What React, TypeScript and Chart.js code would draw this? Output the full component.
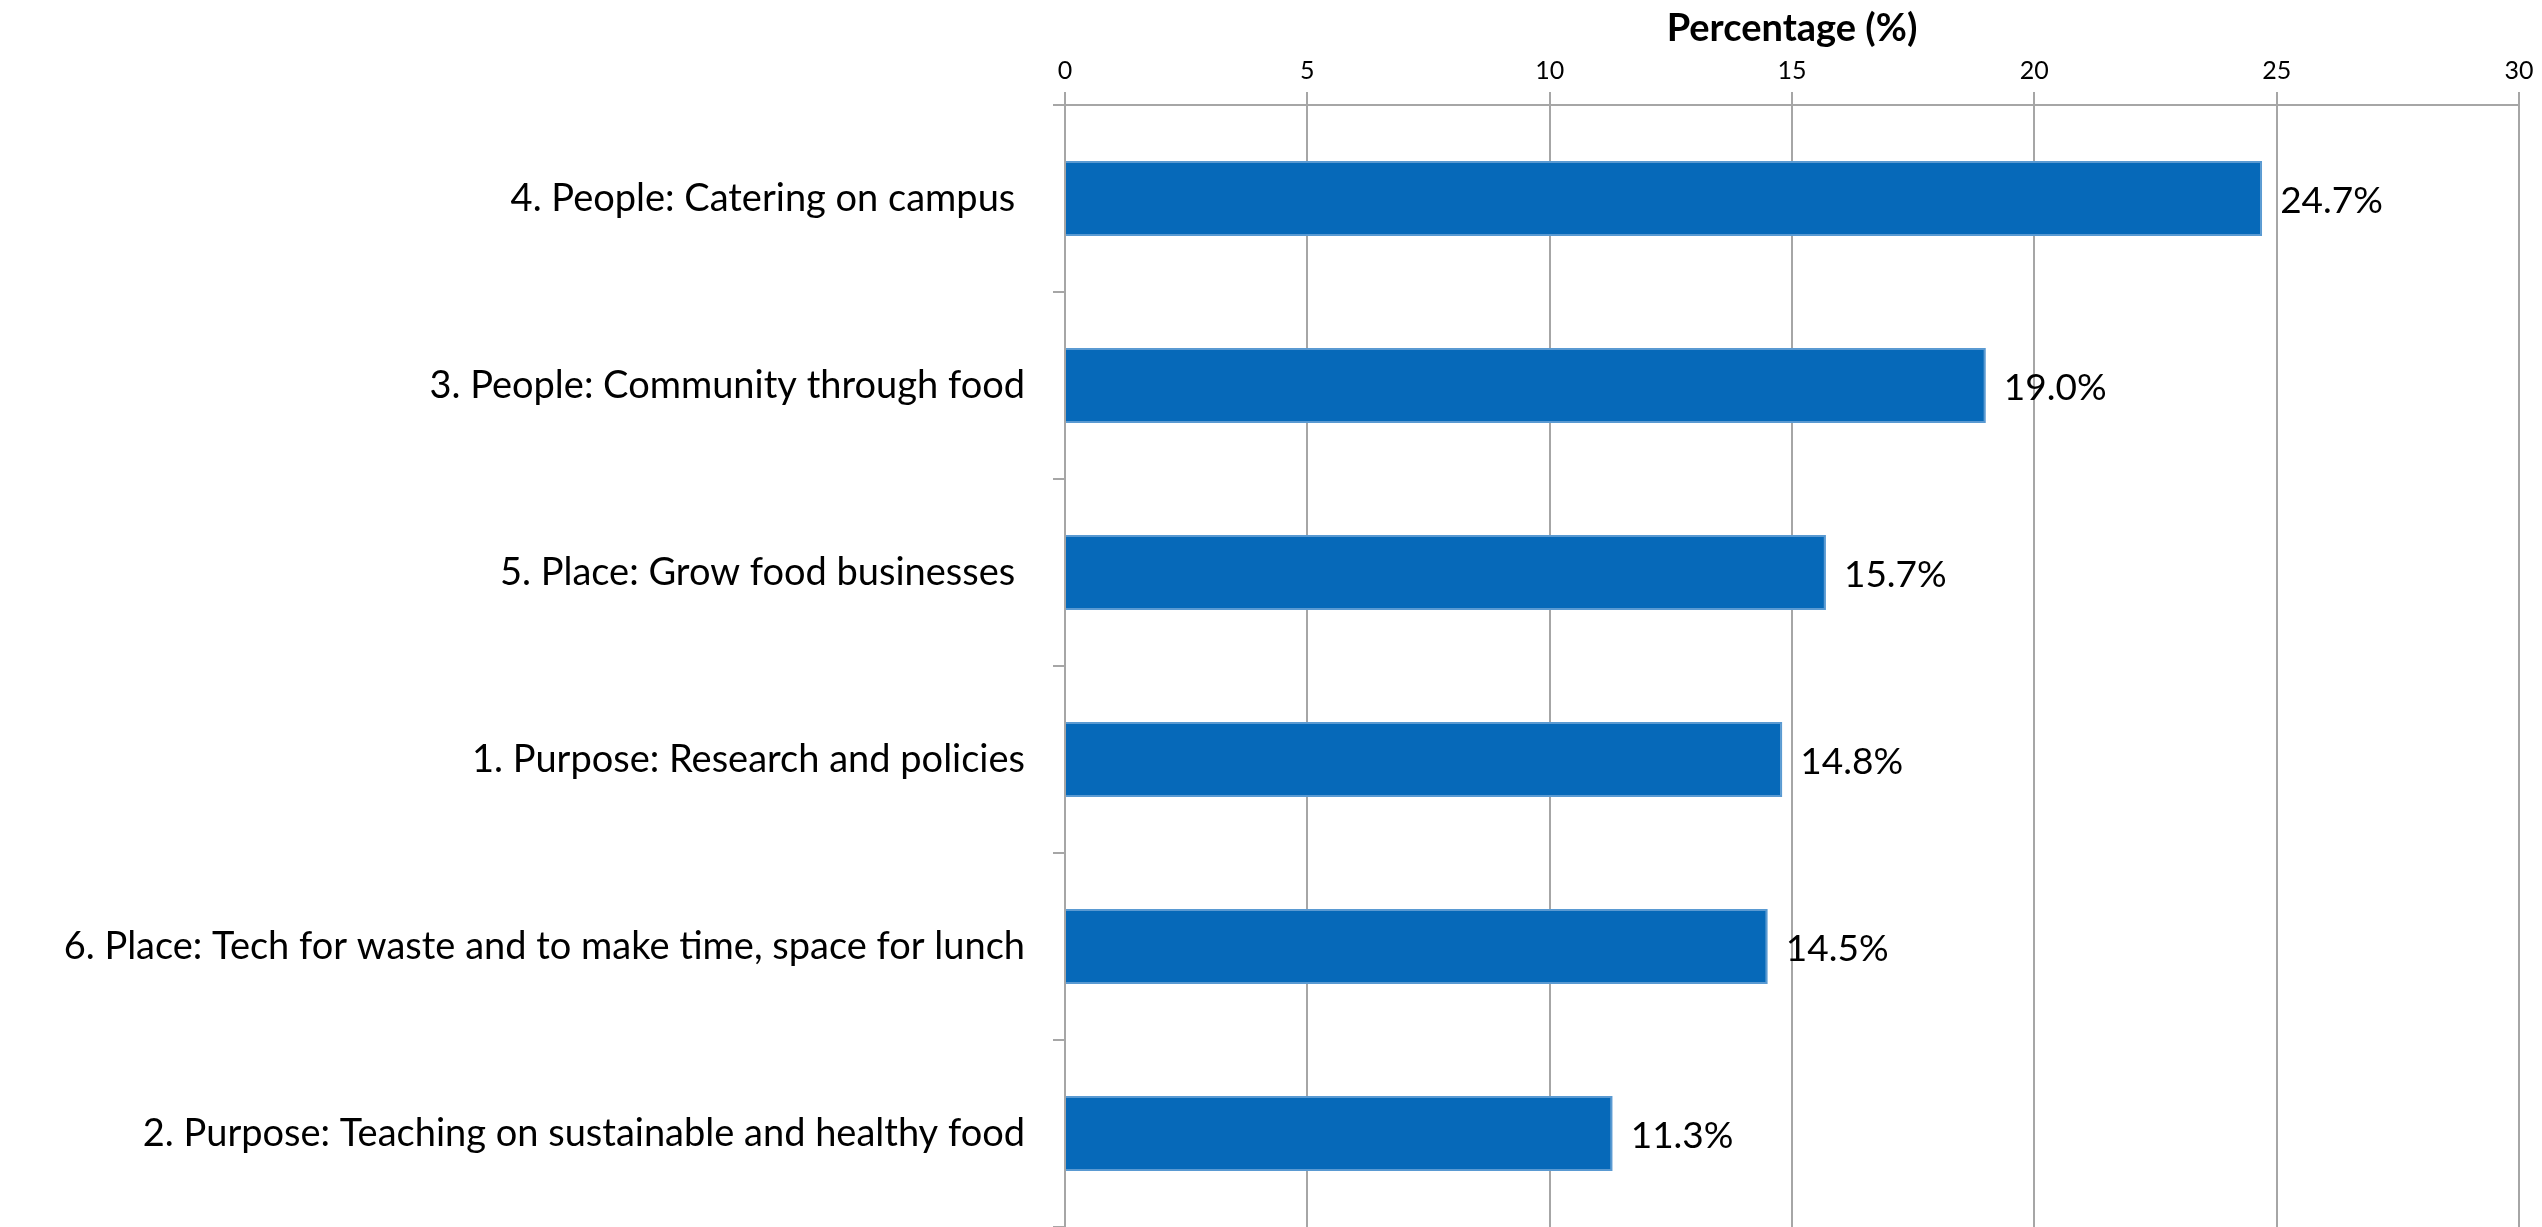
import React, { useEffect, useRef } from "react";
import { Chart, registerables } from "chart.js";

Chart.register(...registerables);

const categories = [
  "4. People: Catering on campus ",
  "3. People: Community through food",
  "5. Place: Grow food businesses ",
  "1. Purpose: Research and policies",
  "6. Place: Tech for waste and to make time, space for lunch",
  "2. Purpose: Teaching on sustainable and healthy food",
];
const percentages = [24.7, 19.0, 15.7, 14.8, 14.5, 11.3];
const valueLabels = ["24.7%", "19.0%", "15.7%", "14.8%", "14.5%", "11.3%"];
const axisMin = 0;
const axisMax = 30;
const axisStep = 5;
const axisTitle = "Percentage (%)";

const FONT = "Lato, 'Liberation Sans', sans-serif";
const GRID = "#A6A6A6";

const valueLabelPlugin = {
  id: "valueLabels",
  afterDatasetsDraw(chart: any) {
    const ctx = chart.ctx;
    const meta = chart.getDatasetMeta(0);
    ctx.save();
    ctx.font = `37px ${FONT}`;
    ctx.fillStyle = "#000";
    ctx.textAlign = "left";
    ctx.textBaseline = "middle";
    meta.data.forEach((bar: any, i: number) => {
      ctx.fillText(valueLabels[i], bar.x + 18, bar.y + 3);
    });
    ctx.restore();
  },
};

export default function App() {
  const ref = useRef<HTMLCanvasElement | null>(null);
  useEffect(() => {
    if (!ref.current) return;
    const chart = new Chart(ref.current, {
      type: "bar",
      data: {
        labels: categories,
        datasets: [
          {
            data: percentages,
            backgroundColor: "#0669B9",
            borderColor: "#5A9AD2",
            borderWidth: 2,
            barPercentage: 0.4,
            categoryPercentage: 1,
          },
        ],
      },
      plugins: [valueLabelPlugin],
      options: {
        indexAxis: "y",
        animation: false,
        responsive: true,
        maintainAspectRatio: false,
        layout: { padding: { left: 0, right: 23, top: 0, bottom: 0 } },
        plugins: { legend: { display: false }, tooltip: { enabled: false } },
        scales: {
          x: {
            type: "linear",
            position: "top",
            min: axisMin,
            max: axisMax,
            ticks: {
              stepSize: axisStep,
              color: "#000",
              padding: 6,
              font: { family: FONT, size: 25 },
            },
            grid: { color: GRID, lineWidth: 2, tickLength: 13, drawTicks: true },
            border: { display: true, color: GRID, width: 2 },
            title: {
              display: true,
              text: axisTitle,
              color: "#000",
              font: { family: FONT, size: 38, weight: "bold" },
              padding: { top: 6, bottom: 0 },
            },
            afterFit: (s: any) => {
              s.height = 105;
            },
          },
          y: {
            type: "category",
            offset: true,
            ticks: {
              color: "#000",
              padding: 28,
              font: { family: FONT, size: 38 },
            },
            grid: {
              offset: true,
              drawOnChartArea: false,
              drawTicks: true,
              tickLength: 12,
              color: GRID,
              lineWidth: 2,
            },
            border: { display: true, color: GRID, width: 2 },
            afterFit: (s: any) => {
              s.width = 1065;
              s.paddingTop = 0;
              s.paddingBottom = 0;
            },
          },
        },
      },
    } as any);
    return () => chart.destroy();
  }, []);
  return (
    <div style={{ position: "fixed", left: 0, top: 0, width: 2542, height: 1227, background: "#fff" }}>
      <canvas ref={ref} />
    </div>
  );
}
